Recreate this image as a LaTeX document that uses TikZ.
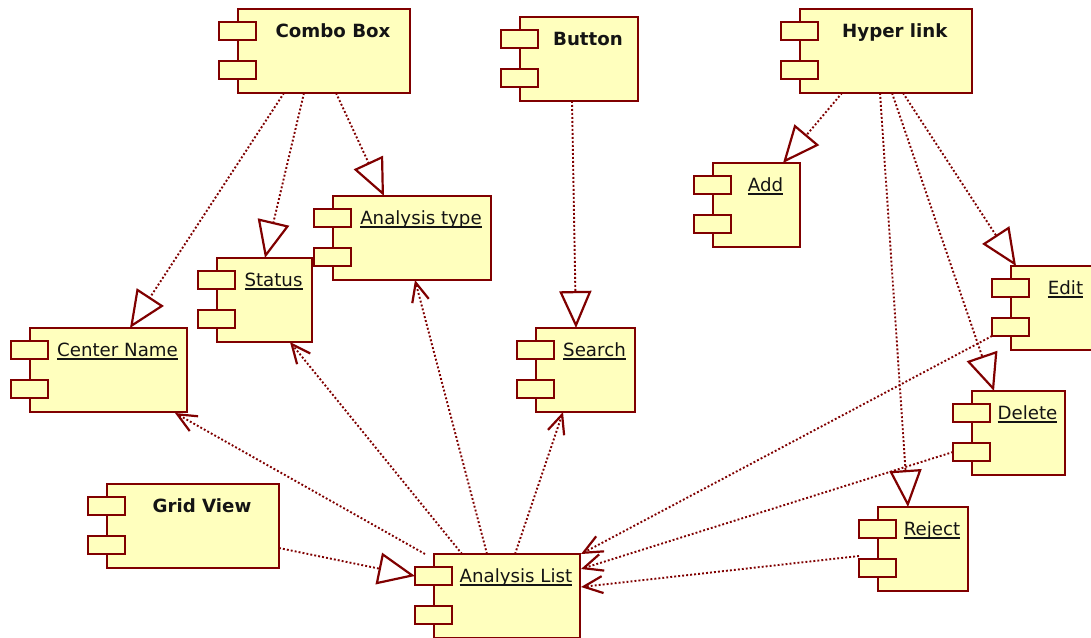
\documentclass[tikz,border=0pt]{standalone}
\usepackage{fontspec}
\setmainfont{DejaVu Sans}
\usetikzlibrary{arrows.meta,calc}
\definecolor{umlred}{RGB}{128,0,0}
\definecolor{umlfill}{RGB}{255,255,190}
\definecolor{umltext}{RGB}{20,20,20}
\newcommand\uln[1]{{\setbox0\hbox{#1}\rlap{\rule[-3.5pt]{\wd0}{1.7pt}}\box0}}
\newcommand\comp[5]{%
  \node[body, minimum width=#4pt, anchor=north west] (#1) at (#2,#3) {};
  \node[tabbox, anchor=north west] (#1-t1) at ($(#1.north west)+(-19,13)$) {};
  \node[tabbox, anchor=north west] (#1-t2) at ($(#1.north west)+(-19,52)$) {};
  \node[anchor=base, text=umltext, inner sep=0pt] (#1-l) at ($(#1.north west)!.5!(#1.north east)+(9,28)$) {#5};
}
\begin{document}
\begin{tikzpicture}[x=1pt,y=-1pt,
  font=\fontsize{18.2}{20}\selectfont,
  body/.style={rectangle, draw=umlred, fill=umlfill, line width=2.2pt, minimum height=84pt, inner sep=0pt, outer sep=0pt},
  tabbox/.style={rectangle, draw=umlred, fill=umlfill, line width=2.2pt, minimum width=37pt, minimum height=18pt, inner sep=0pt, outer sep=0pt},
  realize/.style={draw=umlred, line width=1.9pt, dash pattern=on 1.9pt off 2.1pt,
    -{Triangle[fill=white, length=37pt, width=32pt, line width=2.2pt]}},
  usedep/.style={draw=umlred, line width=1.9pt, dash pattern=on 1.9pt off 2.1pt,
    -{Straight Barb[length=19pt, width=17pt, line width=2.2pt]}}]
\useasboundingbox (0,0) rectangle (1091,637);
\clip (0,0) rectangle (1091,637);
\fill[white] (0,0) rectangle (1091,637);

\comp{cb}{238}{9}{172}{\textbf{Combo Box}}
\comp{btn}{520}{17}{118}{\textbf{Button}}
\comp{hl}{800}{9}{172}{\textbf{Hyper link}}
\comp{add}{713}{163}{87}{\uln{Add}}
\comp{at}{333}{196}{158}{\uln{Analysis type}}
\comp{st}{217}{258}{95}{\uln{Status}}
\comp{cn}{30}{328}{157}{\uln{Center Name}}
\comp{sr}{536}{328}{99}{\uln{Search}}
\comp{ed}{1011}{266}{91}{\uln{Edit}}
\comp{dl}{972}{391}{93}{\uln{Delete}}
\comp{rj}{878}{507}{90}{\uln{Reject}}
\comp{gv}{107}{484}{172}{\textbf{Grid View}}
\comp{al}{434}{554}{146}{\uln{Analysis List}}

\draw[realize] ($(cb.south west)+(46,0)$) -- ($(cn.north west)+(100,0)$);
\draw[realize] ($(cb.south west)+(66,0)$) -- ($(st.north west)+(48,0)$);
\draw[realize] ($(cb.south west)+(98,0)$) -- ($(at.north west)+(51,0)$);
\draw[realize] ($(btn.south west)+(52,0)$) -- ($(sr.north west)+(40,0)$);
\draw[realize] ($(hl.south west)+(42,0)$) -- ($(add.north west)+(70,0)$);
\draw[realize] ($(hl.south west)+(103,0)$) -- ($(ed.north west)+(5,0)$);
\draw[realize] ($(hl.south west)+(92,0)$) -- ($(dl.north west)+(22,0)$);
\draw[realize] ($(hl.south west)+(80,0)$) -- ($(rj.north west)+(30,0)$);
\draw[realize] ($(gv.south east)+(0,-20)$) -- (al-t1.west);

\draw[usedep] ($(al.north west)+(-9,0)$) -- ($(cn.south east)+(-12,1)$);
\draw[usedep] ($(al.north west)+(28,0)$) -- ($(st.south east)+(-22,0)$);
\draw[usedep] ($(al.north west)+(53,0)$) -- ($(at.south west)+(82,0)$);
\draw[usedep] ($(al.north west)+(81,0)$) -- ($(sr.south west)+(27,0)$);
\draw[usedep] (ed-t2.south west) -- ($(al.north east)+(1,0)$);
\draw[usedep] (dl-t2.west) -- ($(al.north east)+(1,15)$);
\draw[usedep] ($(rj.north west)+(-19,49)$) -- ($(al.north east)+(1,33)$);
\end{tikzpicture}
\end{document}
